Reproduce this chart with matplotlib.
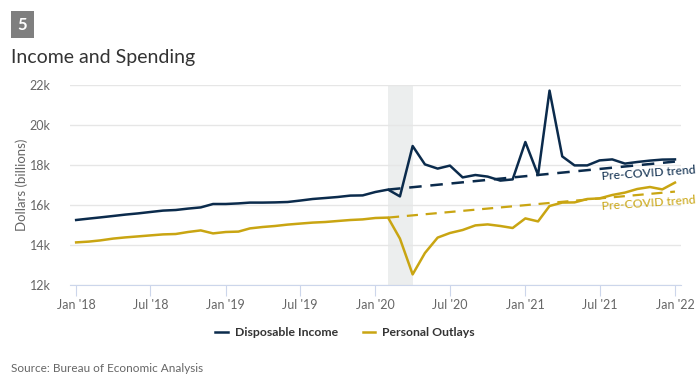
import matplotlib.pyplot as plt
from matplotlib.patches import Rectangle
import pandas as pd

# monthly values, Jan 2018 - Jan 2022 (billions of dollars)
months = pd.date_range("2018-01-01", "2022-01-01", freq="MS")

disposable_income = [
    15.25, 15.32, 15.38, 15.45, 15.52, 15.58, 15.65, 15.72, 15.75, 15.82, 15.88, 16.05,
    16.05, 16.08, 16.12, 16.12, 16.13, 16.15, 16.22, 16.30, 16.35, 16.40, 16.47, 16.48,
    16.65, 16.77, 16.43, 18.95, 18.03, 17.82, 17.97, 17.38, 17.50, 17.42, 17.22, 17.28,
    19.15, 17.50, 21.72, 18.43, 17.98, 17.98, 18.23, 18.28, 18.07, 18.15, 18.22, 18.27,
    18.28,
]
personal_outlays = [
    14.13, 14.17, 14.23, 14.32, 14.38, 14.43, 14.48, 14.53, 14.55, 14.65, 14.73, 14.58,
    14.65, 14.67, 14.83, 14.90, 14.95, 15.02, 15.07, 15.12, 15.15, 15.20, 15.25, 15.28,
    15.35, 15.37, 14.32, 12.53, 13.60, 14.37, 14.60, 14.75, 14.98, 15.03, 14.95, 14.85,
    15.33, 15.18, 15.95, 16.12, 16.13, 16.30, 16.33, 16.50, 16.62, 16.80, 16.90, 16.78,
    17.12,
]
# pre-COVID trend lines, Feb 2020 -> Jan 2022
trend_dates = [pd.Timestamp("2020-02-01"), pd.Timestamp("2022-01-01")]
income_trend = [16.77, 18.17]
outlays_trend = [15.37, 16.67]

recession = (pd.Timestamp("2020-02-01"), pd.Timestamp("2020-04-01"))
tick_dates = pd.date_range("2018-01-01", "2022-01-01", freq="6MS")
tick_labels = [d.strftime("%b '%y") for d in tick_dates]

navy = "#0b2b4c"
gold = "#c9a512"
grid = "#e6e6e6"
axis_col = "#ccd6eb"

plt.rcParams["font.family"] = ["Lato", "DejaVu Sans"]

fig = plt.figure(figsize=(7, 3.82), dpi=100)
ax = fig.add_axes([0.1, 1 - 285 / 382, 0.873, 200 / 382])

ax.axvspan(recession[0], recession[1], color="#eceeee", zorder=0, lw=0)
ax.plot(months, disposable_income, color=navy, lw=1.8, zorder=3, label="Disposable Income")
ax.plot(months, personal_outlays, color=gold, lw=1.8, zorder=3, label="Personal Outlays")
ax.plot(trend_dates, income_trend, color=navy, lw=1.8, ls=(0, (5, 3.5)), zorder=2)
ax.plot(trend_dates, outlays_trend, color=gold, lw=1.6, ls=(0, (5, 3.5)), zorder=2)

ax.text(pd.Timestamp("2021-07-05"), 17.6, "Pre-COVID trend", color=navy, fontsize=8.8,
        rotation=4, ha="left", va="center", clip_on=False)
ax.text(pd.Timestamp("2021-07-05"), 16.1, "Pre-COVID trend", color=gold, fontsize=8.8,
        rotation=4, ha="left", va="center", clip_on=False)

ax.set_ylim(12, 22)
ax.set_yticks([12, 14, 16, 18, 20, 22])
ax.set_yticklabels(["12k", "14k", "16k", "18k", "20k", "22k"])
ax.set_xlim(pd.Timestamp("2017-12-17"), pd.Timestamp("2022-01-16"))
ax.set_xticks(tick_dates)
ax.set_xticklabels(tick_labels)

ax.grid(axis="y", color=grid, lw=1)
ax.set_axisbelow(True)
for s in ["top", "right", "left"]:
    ax.spines[s].set_visible(False)
ax.spines["bottom"].set_color(axis_col)
ax.spines["bottom"].set_zorder(1)
ax.tick_params(axis="y", length=0, labelsize=9, labelcolor="#666666", pad=14)
ax.tick_params(axis="x", length=8, color=axis_col, labelsize=9, labelcolor="#666666", pad=2)
ax.set_ylabel("Dollars (billions)", fontsize=9.5, color="#666666")
ax.yaxis.set_label_coords(-42 / 611, 0.5)

leg = fig.legend(loc="center", bbox_to_anchor=(0.493, 1 - 333 / 382), ncol=2, frameon=False,
                 fontsize=8.8, handlelength=1.0, columnspacing=2.0, handletextpad=0.6)
for t in leg.get_texts():
    t.set_color("#333333")
    t.set_fontweight("bold")

# numbered badge and title
fig.patches.append(Rectangle((11 / 700, 1 - 38 / 382), 23 / 700, 27 / 382,
                             transform=fig.transFigure, fc="#7f7f7f", ec="none"))
fig.text(22.5 / 700, 1 - 24.5 / 382, "5", fontsize=12, color="white", fontweight="bold",
         va="center", ha="center")
fig.text(11 / 700, 1 - 57 / 382, "Income and Spending", fontsize=14, color="#333333",
         va="center", ha="left")
fig.text(11 / 700, 1 - 368 / 382, "Source: Bureau of Economic Analysis", fontsize=8.5,
         color="#666666", va="center", ha="left")

fig.savefig("out.png", dpi=100)
